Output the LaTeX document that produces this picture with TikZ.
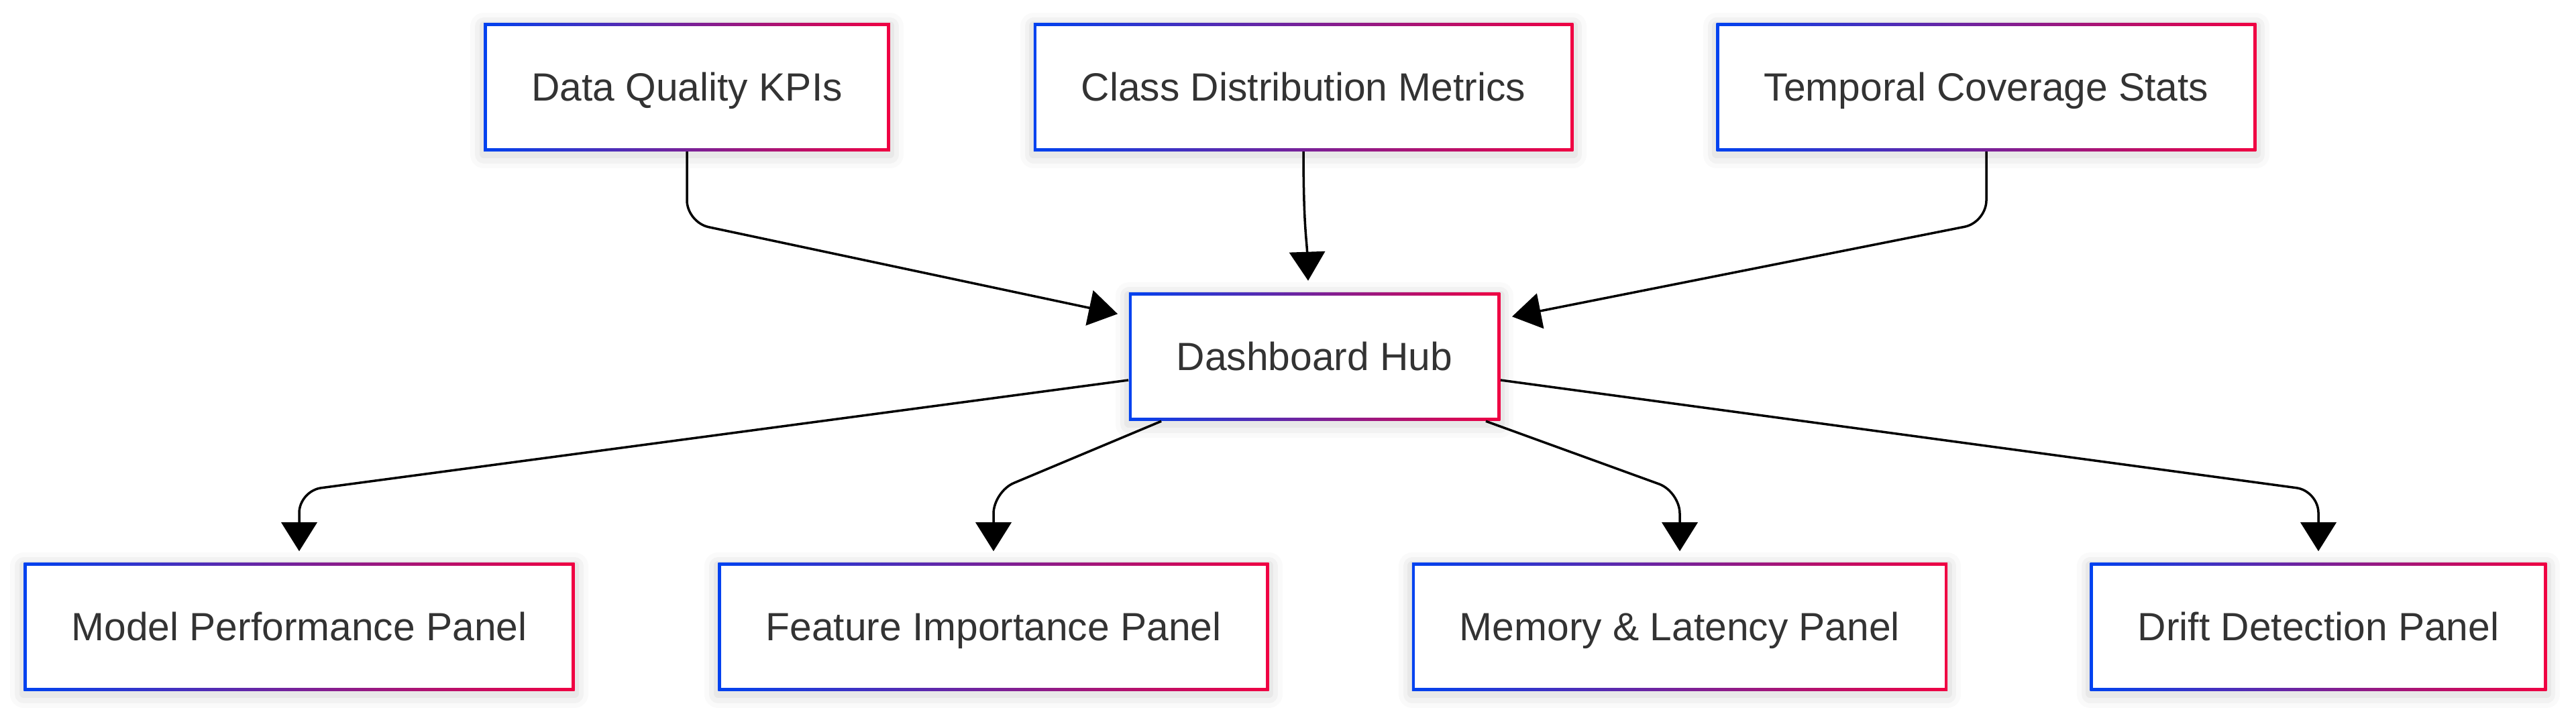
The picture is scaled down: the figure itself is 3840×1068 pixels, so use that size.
\documentclass[tikz,border=0pt]{standalone}
\usepackage{fontspec}
\setmainfont{Liberation Sans}
\usetikzlibrary{arrows.meta}
\definecolor{gL}{RGB}{0,66,240}
\definecolor{gR}{RGB}{240,0,66}
\definecolor{txt}{RGB}{51,51,51}
\tikzset{
  card/.style={
    fill=white, draw=none, inner xsep=0.71cm, inner ysep=0pt, minimum height=1.91cm,
    text height=11.6pt, text depth=0pt,
    text=txt, font=\fontsize{16.7pt}{20pt}\selectfont,
    preaction={draw=black, draw opacity=0.02, line width=0.40cm, line join=round, transform canvas={yshift=-0.05cm}},
    preaction={draw=black, draw opacity=0.03, line width=0.26cm, line join=round, transform canvas={yshift=-0.05cm}},
    preaction={draw=black, draw opacity=0.04, line width=0.13cm, line join=round, transform canvas={yshift=-0.04cm}},
    path picture={
      \shade[left color=gL, right color=gR] (path picture bounding box.south west) rectangle (path picture bounding box.north east);
      \fill[white] ([xshift=0.045cm,yshift=0.045cm]path picture bounding box.south west) rectangle ([xshift=-0.045cm,yshift=-0.045cm]path picture bounding box.north east);
    }
  },
  conn/.style={draw=black, line width=0.035cm, rounded corners=0.33cm, -{Triangle[length=0.43cm,width=0.53cm]}}
}
\begin{document}
\begin{tikzpicture}[x=0.01cm, y=-0.01cm]
\fill[white] (0,0) rectangle (3840,1068);
\useasboundingbox (0,0) rectangle (3840,1068);

\node[card] (A) at (1024,130) {Data Quality KPIs};
\node[card] (B) at (1943,130) {Class Distribution Metrics};
\node[card] (C) at (2961,130) {Temporal Coverage Stats};
\node[card] (hub) at (1959.5,532) {Dashboard Hub};
\node[card] (M) at (446,935) {Model Performance Panel};
\node[card] (F) at (1481,935) {Feature Importance Panel};
\node[card] (Mem) at (2504,935) {Memory \& Latency Panel};
\node[card] (D) at (3456,935) {Drift Detection Panel};

\draw[conn] (A.south) -- ([yshift=-1.055cm]A.south) -- ([xshift=-0.16cm,yshift=-0.325cm]hub.north west);
\draw[conn] (B.south) .. controls ([yshift=-1.1cm]B.south) and ([xshift=-0.115cm,yshift=0.765cm]hub.north) .. ([xshift=-0.095cm,yshift=0.17cm]hub.north);
\draw[conn] (C.south) -- ([yshift=-1.055cm]C.south) -- ([xshift=0.17cm,yshift=-0.365cm]hub.north east);

\draw[conn] ([yshift=-0.35cm]hub.west) -- ([yshift=1.065cm]M.north) -- ([yshift=0.165cm]M.north);
\draw[conn] ([xshift=0.49cm]hub.south west) -- ([yshift=1.055cm]F.north) -- ([yshift=0.165cm]F.north);
\draw[conn] ([xshift=-0.22cm]hub.south east) -- ([yshift=1.055cm]Mem.north) -- ([yshift=0.165cm]Mem.north);
\draw[conn] ([yshift=-0.35cm]hub.east) -- ([yshift=1.065cm]D.north) -- ([yshift=0.165cm]D.north);
\end{tikzpicture}
\end{document}
